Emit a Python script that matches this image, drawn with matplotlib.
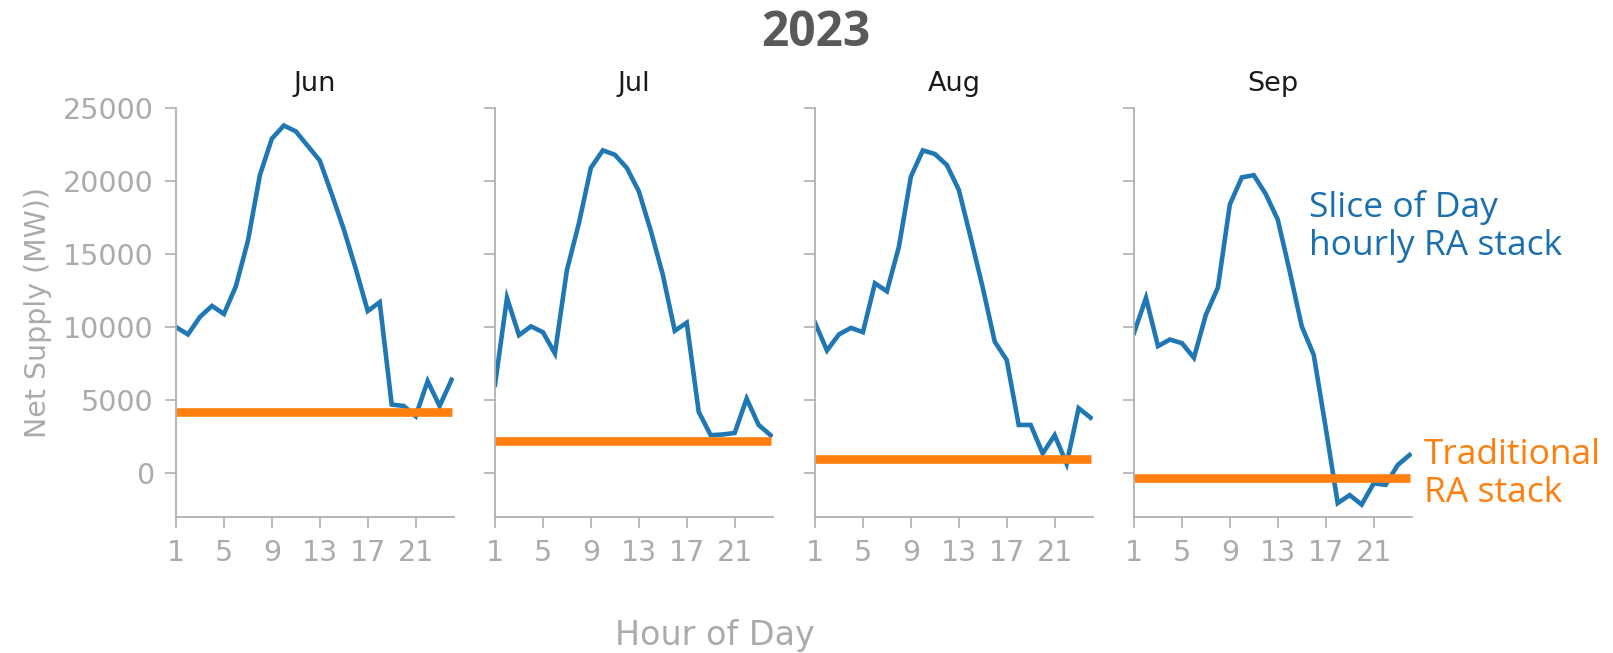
import numpy as np
import matplotlib
matplotlib.use("Agg")
import matplotlib.pyplot as plt

# hourly net supply (MW)
hours = np.arange(1, 25)
months = ["Jun", "Jul", "Aug", "Sep"]

sod_jun = [10000, 9500, 10700, 11450, 10900, 12800, 15900, 20400, 22900, 23800, 23400, 22400,
           21400, 19100, 16700, 14000, 11100, 11700, 4700, 4600, 3900, 6300, 4600, 6400]
sod_jul = [6050, 12000, 9450, 10050, 9650, 8200, 13900, 17100, 20900, 22100, 21800, 20900,
           19300, 16600, 13600, 9750, 10300, 4200, 2600, 2650, 2750, 5100, 3300, 2600]
sod_aug = [10300, 8400, 9500, 9950, 9650, 13000, 12450, 15500, 20300, 22100, 21850, 21100,
           19400, 16100, 12700, 9000, 7750, 3300, 3300, 1350, 2600, 650, 4450, 3800]
sod_sep = [9600, 12000, 8700, 9150, 8900, 7900, 10850, 12700, 18400, 20250, 20400, 19100,
           17350, 13800, 10050, 8100, 3100, -2050, -1500, -2150, -700, -800, 550, 1250]
sod_stack = [sod_jun, sod_jul, sod_aug, sod_sep]

# traditional RA stack (flat level per month)
trad_stack = [4200, 2200, 950, -350]

BLUE = "#1f77b4"
ORANGE = "#ff7f0e"
GRAY = "#b0b0b0"
TICKGRAY = "#ababab"

W, H = 1613, 653
fig = plt.figure(figsize=(W / 100, H / 100), dpi=100)

lefts = [176, 495, 815, 1134]
ax_w, ax_top, ax_bot = 278, 108, 517

for i, m in enumerate(months):
    ax = fig.add_axes([lefts[i] / W, (H - ax_bot) / H, ax_w / W, (ax_bot - ax_top) / H])
    ax.plot(hours, sod_stack[i], color=BLUE, lw=3.3, solid_joinstyle="miter")
    ax.plot([hours[0], hours[-1]], [trad_stack[i]] * 2, color=ORANGE, lw=6.2, solid_capstyle="butt")
    ax.set_xlim(1, 24.2)
    ax.set_ylim(-3000, 25000)
    ax.set_xticks(range(1, 25, 4))
    ax.set_yticks(range(0, 25001, 5000))
    for s in ["top", "right"]:
        ax.spines[s].set_visible(False)
    for s in ["left", "bottom"]:
        ax.spines[s].set_color(GRAY)
        ax.spines[s].set_linewidth(1.3)
    ax.tick_params(colors=GRAY, labelcolor=TICKGRAY, labelsize=20.5, length=8, width=1.2, pad=8)
    if i > 0:
        ax.set_yticklabels([])
    else:
        ax.set_ylabel("Net Supply (MW))", color=TICKGRAY, fontsize=20.5, labelpad=8)
    ax.set_title(m, fontsize=19.5, color="#1a1a1a", pad=12)

fig.text(816 / W, 1 - 34 / H, "2023", ha="center", va="center", fontsize=34.5,
         fontweight="bold", color="#595959", family="Open Sans")
fig.text(715 / W, 1 - 635 / H, "Hour of Day", ha="center", va="center", fontsize=24,
         color=TICKGRAY)

fig.text(1309 / W, 1 - 190 / H, "Slice of Day\nhourly RA stack", ha="left", va="top",
         fontsize=25.5, color="#1a6faf", family="Open Sans", linespacing=1.15)
fig.text(1424 / W, 1 - 438 / H, "Traditional\nRA stack", ha="left", va="top",
         fontsize=25.5, color=ORANGE, family="Open Sans", linespacing=1.15)

fig.savefig("out.png", dpi=100)
